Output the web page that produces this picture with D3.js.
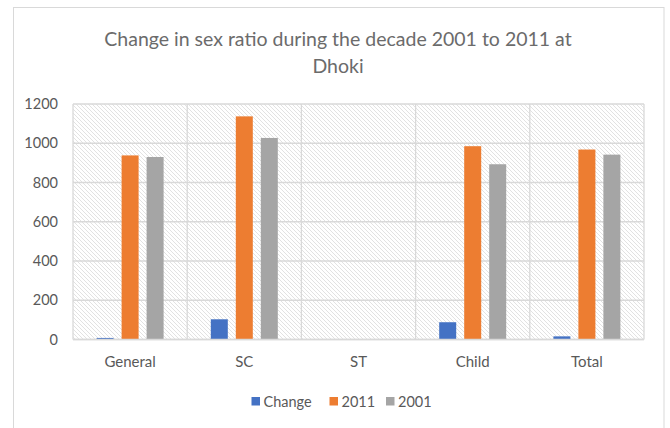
<!DOCTYPE html>
<html><head><meta charset="utf-8">
<script src="https://cdn.jsdelivr.net/npm/d3@7"></script>
<style>html,body{margin:0;padding:0;background:#fff;}svg{display:block;font-family:Lato,"Open Sans",sans-serif;}</style>
</head><body>
<svg id="c" width="670" height="428"></svg>
<script>
const categories = ["General","SC","ST","Child","Total"];
const seriesNames = ["Change","2011","2001"];
const changeValues = [8, 103, 0, 88, 16];
const values2011 = [938, 1137, 0, 985, 968];
const values2001 = [930, 1027, 0, 893, 942];
const yTicks = [0,200,400,600,800,1000,1200];
const colors = ["#4472c4","#ed7d31","#a5a5a5"];
const titleLines = ["Change in sex ratio during the decade 2001 to 2011 at","Dhoki"];

const seriesData = [changeValues, values2011, values2001];
const svg = d3.select("#c");
const m = {left:73, right:644, top:104, bottom:339.5};

// outer border
svg.append("rect").attr("x",13.5).attr("y",7.5).attr("width",650.5).attr("height",430)
  .attr("fill","#fff").attr("stroke","#d9d9d9").attr("stroke-width",1);

const defs = svg.append("defs");
const pat = defs.append("pattern").attr("id","hatch").attr("patternUnits","userSpaceOnUse")
  .attr("width",4).attr("height",4);
pat.append("rect").attr("width",4).attr("height",4).attr("fill","#fff");
pat.append("path").attr("d","M-1,-1 L5,5 M-1,3 L1,5 M3,-1 L5,1").attr("stroke","#e2e2e2").attr("stroke-width",1);

const x0 = d3.scaleBand().domain(categories).range([m.left,m.right]).padding(0);
const x1 = d3.scaleBand().domain(seriesNames).range([0,x0.bandwidth()]).paddingInner(0.32).paddingOuter(0.944);
const y = d3.scaleLinear().domain([0,1200]).range([m.bottom,m.top]);

svg.append("rect").attr("x",m.left).attr("y",m.top).attr("width",m.right-m.left).attr("height",m.bottom-m.top)
  .attr("fill","url(#hatch)");

// horizontal gridlines
svg.append("g").selectAll("line").data(yTicks).join("line")
  .attr("x1",m.left).attr("x2",m.right).attr("y1",d=>y(d)).attr("y2",d=>y(d))
  .attr("stroke","#d9d9d9").attr("stroke-width",1.3);
// vertical gridlines at category boundaries
const bounds = categories.map(c=>x0(c)).concat([m.right]);
svg.append("g").selectAll("line").data(bounds).join("line")
  .attr("x1",d=>d).attr("x2",d=>d).attr("y1",m.top).attr("y2",m.bottom)
  .attr("stroke","#d9d9d9").attr("stroke-width",1.3);

// y axis labels
const yAxis = d3.axisLeft(y).tickValues(yTicks).tickFormat(d3.format("d")).tickSize(0).tickPadding(0);
const ya = svg.append("g").attr("transform",`translate(58,0)`).call(yAxis);
ya.select(".domain").remove();
ya.selectAll("text").attr("fill","#595959").style("font-size","14.5px").style("font-family","Lato,sans-serif");

// bars
const groups = svg.append("g").selectAll("g").data(categories).join("g")
  .attr("transform",d=>`translate(${x0(d)},0)`);
groups.selectAll("rect").data((c,i)=>seriesNames.map((s,j)=>({s, v:seriesData[j][i], j})))
  .join("rect")
  .attr("x",d=>x1(d.s)).attr("width",x1.bandwidth())
  .attr("y",d=>y(d.v)).attr("height",d=>y(0)-y(d.v))
  .attr("fill",d=>colors[d.j]);

// x axis line + labels
svg.append("line").attr("x1",m.left).attr("x2",m.right).attr("y1",m.bottom).attr("y2",m.bottom)
  .attr("stroke","#d9d9d9").attr("stroke-width",1.5);
const xAxis = d3.axisBottom(x0).tickSize(0).tickPadding(0);
const xa = svg.append("g").attr("transform",`translate(0,${m.bottom})`).call(xAxis);
xa.select(".domain").remove();
xa.selectAll("text").attr("fill","#595959").attr("dy",null).attr("y",27)
  .style("font-size","15px").style("font-family","Lato,sans-serif");

// title
svg.append("g").selectAll("text").data(titleLines).join("text")
  .attr("x",338).attr("y",(d,i)=>46+i*27).attr("text-anchor","middle")
  .attr("fill","#6b6b6b").style("font-size","19.5px").text(d=>d);

// legend
const legX = [251.5, 329.5, 386];
const lg = svg.append("g").selectAll("g").data(seriesNames).join("g")
  .attr("transform",(d,i)=>`translate(${legX[i]},397)`);
lg.append("rect").attr("width",8.5).attr("height",8.5).attr("fill",(d,i)=>colors[i]);
lg.append("text").attr("x",12).attr("y",9.5).attr("fill","#595959").style("font-size","14.5px").text(d=>d);
</script>
</body></html>
